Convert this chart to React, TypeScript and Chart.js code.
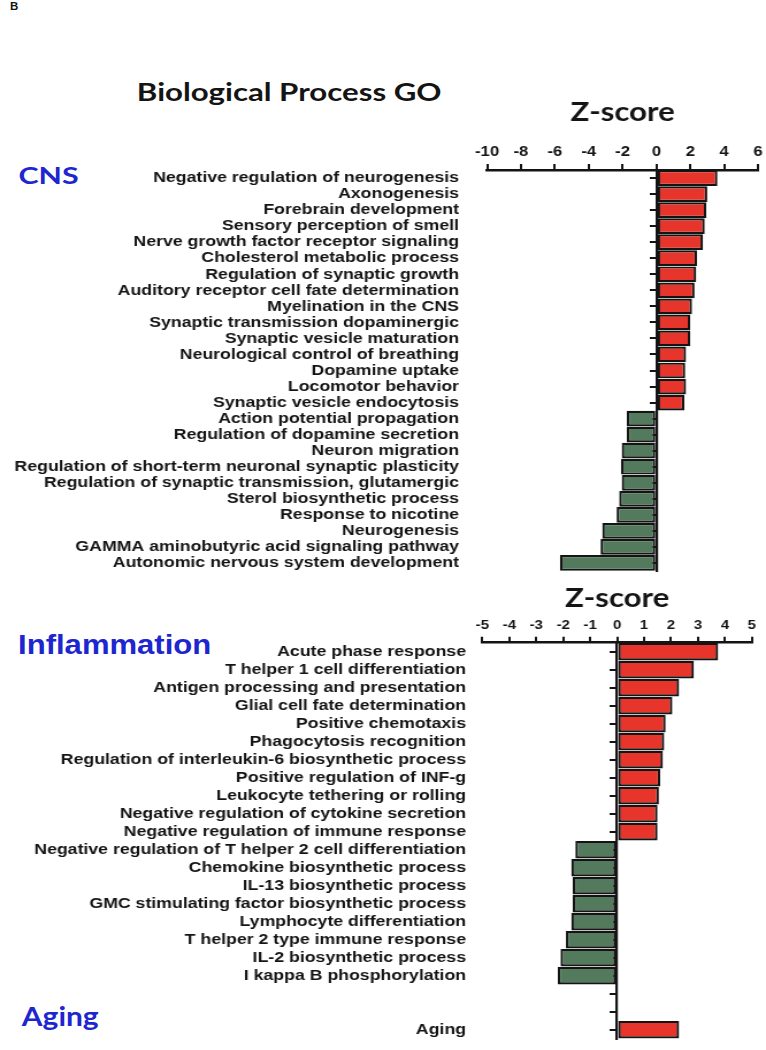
import React, { useEffect, useRef } from "react";
import { Chart, registerables } from "chart.js";

Chart.register(...registerables);

// ---------- DATA ----------
const cnsLabels = [
  "Negative regulation of neurogenesis",
  "Axonogenesis",
  "Forebrain development",
  "Sensory perception of smell",
  "Nerve growth factor receptor signaling",
  "Cholesterol metabolic process",
  "Regulation of synaptic growth",
  "Auditory receptor cell fate determination",
  "Myelination in the CNS",
  "Synaptic transmission dopaminergic",
  "Synaptic vesicle maturation",
  "Neurological control of breathing",
  "Dopamine uptake",
  "Locomotor behavior",
  "Synaptic vesicle endocytosis",
  "Action potential propagation",
  "Regulation of dopamine secretion",
  "Neuron migration",
  "Regulation of short-term neuronal synaptic plasticity",
  "Regulation of synaptic transmission, glutamergic",
  "Sterol biosynthetic process",
  "Response to nicotine",
  "Neurogenesis",
  "GAMMA aminobutyric acid signaling pathway",
  "Autonomic nervous system development",
];
const cnsValues = [
  3.6, 3.0, 2.95, 2.85, 2.75, 2.4, 2.35, 2.25, 2.1, 2.0, 2.0, 1.75, 1.7, 1.75,
  1.65, -1.75, -1.75, -2.05, -2.1, -2.05, -2.2, -2.35, -3.2, -3.3, -5.7,
];

const inflLabels = [
  "Acute phase response",
  "T helper 1 cell differentiation",
  "Antigen processing and presentation",
  "Glial cell fate determination",
  "Positive chemotaxis",
  "Phagocytosis recognition",
  "Regulation of interleukin-6 biosynthetic process",
  "Positive regulation of INF-g",
  "Leukocyte tethering or rolling",
  "Negative regulation of cytokine secretion",
  "Negative regulation of immune response",
  "Negative regulation of T helper 2 cell differentiation",
  "Chemokine biosynthetic process",
  "IL-13 biosynthetic process",
  "GMC stimulating factor biosynthetic process",
  "Lymphocyte differentiation",
  "T helper 2 type immune response",
  "IL-2 biosynthetic process",
  "I kappa B phosphorylation",
  "",
  "",
  "Aging",
];
const inflValues: (number | null)[] = [
  3.75, 2.85, 2.3, 2.05, 1.8, 1.75, 1.7, 1.6, 1.55, 1.5, 1.5, -1.55, -1.7,
  -1.65, -1.65, -1.7, -1.9, -2.1, -2.2, null, null, 2.3,
];

const cnsAxis = { min: -10, max: 6, step: 2 };
const inflAxis = { min: -5, max: 5, step: 1 };
const axisTitle = "Z-score";

// ---------- STYLE ----------
const W = 666; // drawn width, stretched horizontally to 766
const RED = "#e8352b";
const GREEN = "#537a5d";
const INK = "#141414";
const BLUE = "#1e26cf";
const LABEL_FONT = "'Liberation Sans', Arial, Helvetica, sans-serif";
const TITLE_FONT = "Lato, 'Open Sans', sans-serif";

type PanelOpts = {
  labels: string[];
  values: (number | null)[];
  axis: { min: number; max: number; step: number };
  padTop: number;
  padBottom: number;
  padRight: number;
  xHeight: number;
  yWidth: number;
  labelPad: number;
  tickFont: number;
  tickPad: number;
};

function makeConfig(o: PanelOpts): any {
  return {
    type: "bar",
    data: {
      labels: o.labels,
      datasets: [
        {
          data: o.values,
          backgroundColor: o.values.map((v) => (v != null && v >= 0 ? RED : GREEN)),
          borderColor: INK,
          borderWidth: 2.2,
          borderSkipped: false,
          barPercentage: 0.98,
          categoryPercentage: 1,
          xAxisID: "x",
          yAxisID: "y",
        },
      ],
    },
    options: {
      indexAxis: "y",
      responsive: false,
      animation: false,
      devicePixelRatio: 1,
      layout: { padding: { top: o.padTop, bottom: o.padBottom, right: o.padRight, left: 0 } },
      plugins: {
        legend: { display: false },
        tooltip: { enabled: false },
        title: { display: false },
      },
      scales: {
        x: {
          type: "linear",
          position: "top",
          min: o.axis.min,
          max: o.axis.max,
          ticks: {
            stepSize: o.axis.step,
            color: INK,
            padding: o.tickPad,
            font: { family: LABEL_FONT, size: o.tickFont, weight: "bold" },
          },
          grid: {
            drawOnChartArea: false,
            drawTicks: true,
            tickLength: 6,
            color: INK,
            lineWidth: 2,
          },
          border: { display: true, color: INK, width: 2.5 },
          title: {
            display: true,
            text: axisTitle,
            color: INK,
            padding: { top: 0, bottom: 0 },
            font: { family: TITLE_FONT, size: 27, weight: "bold" },
          },
          afterFit: (s: any) => {
            s.height = o.xHeight;
            s.paddingLeft = 0;
            s.paddingRight = 0;
          },
        },
        y: {
          type: "category",
          position: "left",
          offset: true,
          grid: { display: false, drawTicks: false },
          border: { display: false },
          ticks: {
            autoSkip: false,
            padding: o.labelPad,
            color: INK,
            font: { family: LABEL_FONT, size: 15.4, weight: "bold" },
          },
          afterFit: (s: any) => {
            s.width = o.yWidth;
            s.paddingTop = 0;
            s.paddingBottom = 0;
          },
        },
        y0: {
          type: "category",
          axis: "y",
          position: { x: 0 },
          offset: true,
          z: 1,
          grid: {
            offset: false,
            drawOnChartArea: false,
            drawTicks: true,
            tickLength: 5,
            color: INK,
            lineWidth: 2,
          },
          border: { display: true, color: INK, width: 2.2 },
          ticks: { display: false, autoSkip: false },
          afterFit: (s: any) => {
            s.width = 0;
            s.paddingTop = 0;
            s.paddingBottom = 0;
          },
        },
      },
    },
  };
}

function Panel({ opts, top, height }: { opts: PanelOpts; top: number; height: number }) {
  const ref = useRef<HTMLCanvasElement | null>(null);
  useEffect(() => {
    if (!ref.current) return;
    const chart = new Chart(ref.current, makeConfig(opts));
    return () => chart.destroy();
  }, []);
  return (
    <canvas
      ref={ref}
      width={W}
      height={height}
      style={{ position: "absolute", left: 0, top, width: W, height }}
    />
  );
}

const cnsPanel: PanelOpts = {
  labels: cnsLabels,
  values: cnsValues,
  axis: cnsAxis,
  padTop: 95.8,
  padBottom: 4,
  padRight: 6.9,
  xHeight: 74.2,
  yWidth: 423.5,
  labelPad: 24.4,
  tickFont: 14.5,
  tickPad: 3,
};

const inflPanel: PanelOpts = {
  labels: inflLabels,
  values: inflValues,
  axis: inflAxis,
  padTop: 1.8,
  padBottom: 3.3,
  padRight: 12.3,
  xHeight: 60.9,
  yWidth: 419.4,
  labelPad: 14.2,
  tickFont: 13,
  tickPad: 3.9,
};

const txt = (extra: React.CSSProperties): React.CSSProperties => ({
  position: "absolute",
  margin: 0,
  lineHeight: 1,
  whiteSpace: "nowrap",
  fontWeight: "bold",
  transformOrigin: "0 0",
  ...extra,
});

export default function App() {
  useEffect(() => {
    document.body.style.overflow = "hidden";
  }, []);
  return (
    <div
      style={{
        position: "absolute",
        left: 0,
        top: 0,
        width: W,
        height: 1050,
        background: "#ffffff",
        transform: `scaleX(${766 / W})`,
        transformOrigin: "0 0",
      }}
    >
      <div style={txt({ left: 8.7, top: 2, fontFamily: LABEL_FONT, fontSize: 10, color: INK })}>B</div>
      <div
        style={txt({
          left: 119,
          top: 79.6,
          fontFamily: TITLE_FONT,
          fontSize: 24,
          color: INK,
          transform: "scaleX(1.13)",
        })}
      >
        Biological Process GO
      </div>
      <div
        style={txt({
          left: 15.7,
          top: 164.6,
          fontFamily: TITLE_FONT,
          fontSize: 22,
          color: BLUE,
          transform: "scaleX(1.2)",
        })}
      >
        CNS
      </div>
      <div style={txt({ left: 15.7, top: 632.3, fontFamily: LABEL_FONT, fontSize: 27, color: BLUE })}>
        Inflammation
      </div>
      <div style={txt({ left: 19, top: 1003, fontFamily: TITLE_FONT, fontSize: 26, color: BLUE })}>Aging</div>
      <Panel opts={cnsPanel} top={0} height={575} />
      <Panel opts={inflPanel} top={580} height={462} />
    </div>
  );
}
